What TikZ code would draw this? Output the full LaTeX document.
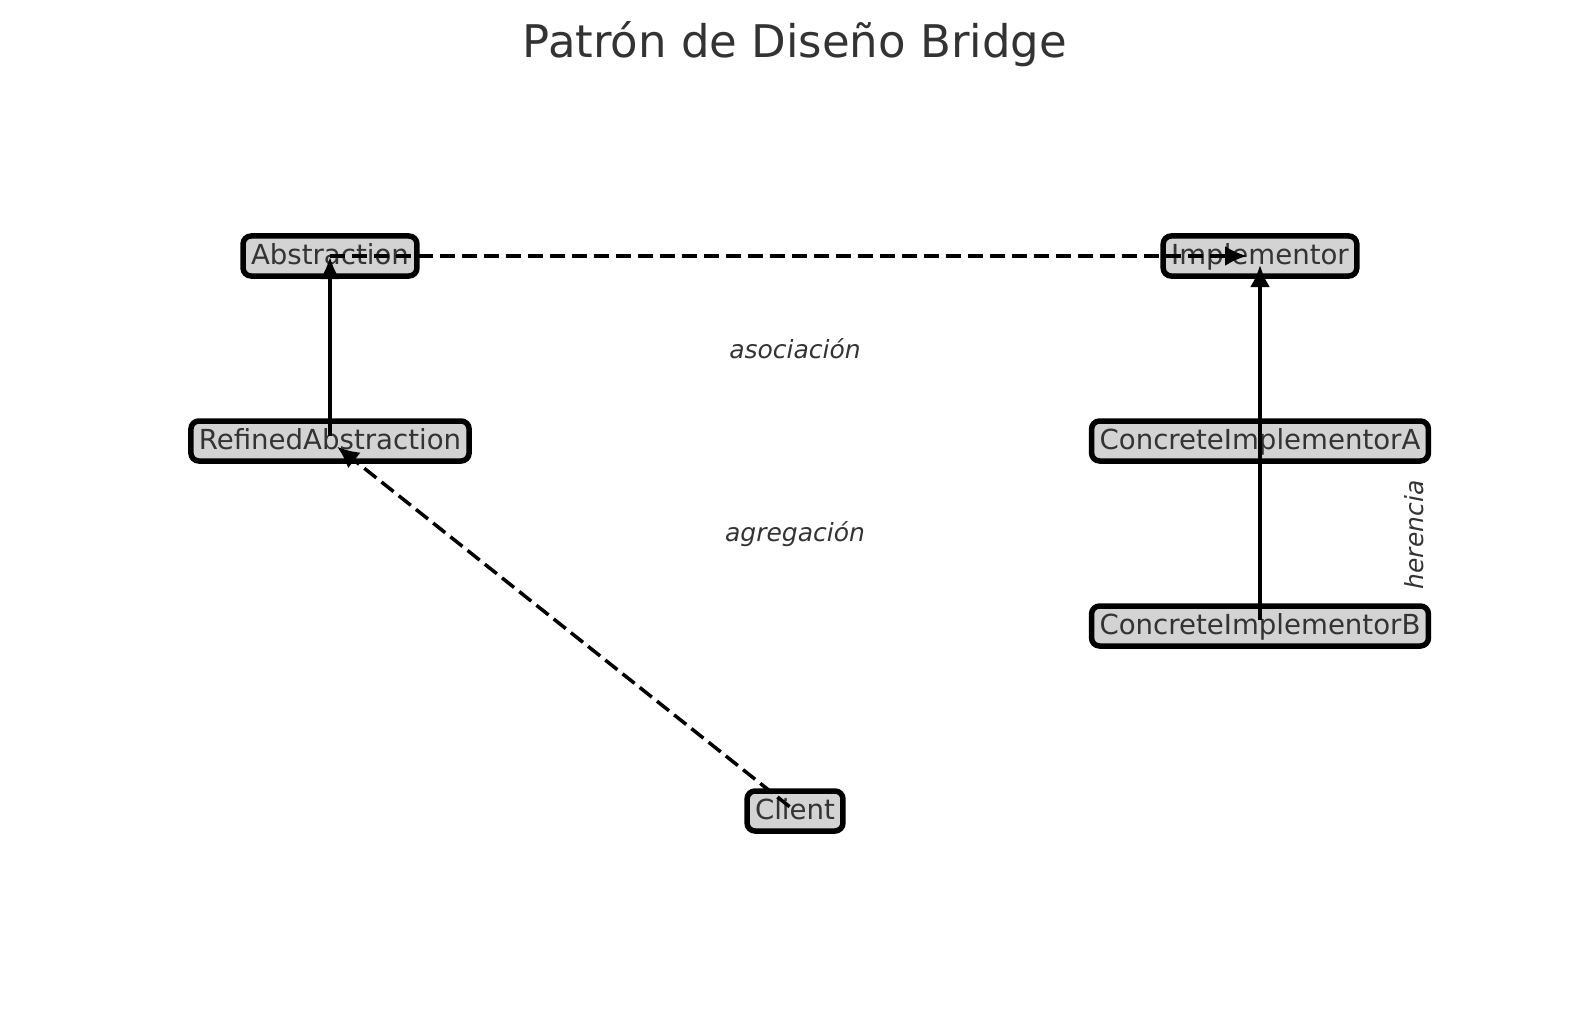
\documentclass[tikz,border=0pt]{standalone}
\usepackage{fontspec}
\setmainfont{DejaVu Sans}
\usetikzlibrary{arrows.meta}
\definecolor{txt}{HTML}{333333}
\definecolor{boxfill}{HTML}{D3D3D3}
\tikzset{
  cls/.style={draw=black, fill=boxfill, line width=5.5pt, rounded corners=8pt,
    text=txt, font=\fontsize{27.6}{31}\selectfont, inner xsep=8pt, inner ysep=0pt,
    minimum height=40pt, text height=22pt, text depth=5.6pt},
  conn/.style={line width=3.5pt, draw=black, -{Latex[length=22pt,width=20pt]}},
  dashline/.style={dash pattern=on 15.4pt off 6.6pt},
  lbl/.style={text=txt, font=\fontsize{25}{28}\selectfont\itshape}
}
\begin{document}
\begin{tikzpicture}[x=1pt,y=-1pt]
\useasboundingbox (0,0) rectangle (1589,1016);
\node[anchor=base, text=txt, font=\fontsize{45}{50}\selectfont] (title) at (795,58) {Patrón de Diseño Bridge};

\node[cls] (abs) at (330,256) {Abstraction};
\node[cls] (imp) at (1260,256) {Implementor};
\node[cls] (ref) at (330,441) {RefinedAbstraction};
\node[cls] (cia) at (1260,441) {ConcreteImplementorA};
\node[cls] (cib) at (1260,626) {ConcreteImplementorB};
\node[cls] (cli) at (795,811) {Client};

\node[lbl] (l1) at (795,349) {asociación};
\node[lbl] (l2) at (795,534) {agregación};
\node[lbl, rotate=90] (l3) at (1414,535) {herencia};

\draw[conn, dashline, shorten >=13pt] (abs.center) -- (imp.center);
\draw[conn, shorten <=5pt, shorten >=1pt] (ref.center) -- (abs.center);
\draw[conn, shorten <=6pt, shorten >=9pt] (cib.center) -- (imp.center);
\draw[conn, dashline, shorten <=7pt, shorten >=9pt] (cli.center) -- (ref.center);
\end{tikzpicture}
\end{document}
